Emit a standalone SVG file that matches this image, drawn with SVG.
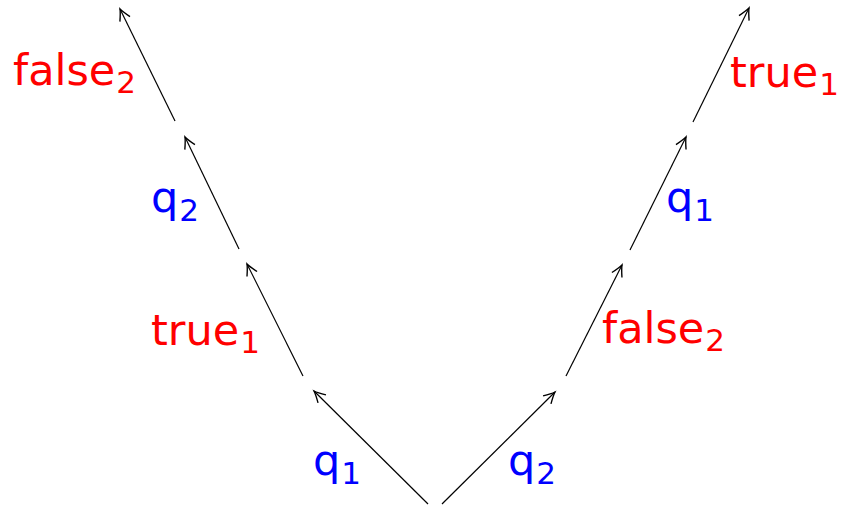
<svg xmlns="http://www.w3.org/2000/svg" width="846" height="506" viewBox="0 0 846 506">
<style>
.e{stroke:#000;stroke-width:1.2;fill:none;marker-end:url(#ah)}
text{font-family:"DejaVu Sans","Liberation Sans",sans-serif;font-size:43px}
.r{fill:#ff0000}
.b{fill:#0000ff}
.s{font-size:31px}
</style>
<defs>
<marker id="ah" markerUnits="userSpaceOnUse" markerWidth="20" markerHeight="20" refX="0" refY="0" viewBox="-12 -8 14 16" orient="auto">
<path d="M-9,-4.5 Q-3,-1 0,0 Q-3,1 -9,4.5" stroke="#000" stroke-width="1.1" fill="none"/>
</marker>
</defs>
<g id="connectors">
<line class="e" x1="428" y1="504" x2="314" y2="391"/>
<line class="e" x1="303" y1="376" x2="247" y2="264"/>
<line class="e" x1="239" y1="249" x2="185" y2="137"/>
<line class="e" x1="175" y1="121" x2="120" y2="9"/>
<line class="e" x1="442" y1="504" x2="555" y2="392"/>
<line class="e" x1="566" y1="376" x2="622" y2="265"/>
<line class="e" x1="630" y1="250" x2="686" y2="137"/>
<line class="e" x1="693" y1="122" x2="749" y2="8"/>
</g>
<g id="l-q1"><text class="b" x="313" y="475">q<tspan class="s" dx="1" dy="9">1</tspan></text></g>
<g id="l-true1"><text class="r" x="151" y="345">true<tspan class="s" dx="1" dy="8">1</tspan></text></g>
<g id="l-q2"><text class="b" x="151" y="212">q<tspan class="s" dx="1" dy="9">2</tspan></text></g>
<g id="l-false2"><text class="r" x="13" y="85">false<tspan class="s" dx="1" dy="8">2</tspan></text></g>
<g id="r-q2"><text class="b" x="508" y="475">q<tspan class="s" dx="1" dy="9">2</tspan></text></g>
<g id="r-false2"><text class="r" x="602" y="343">false<tspan class="s" dx="1" dy="8">2</tspan></text></g>
<g id="r-q1"><text class="b" x="666" y="212">q<tspan class="s" dx="1" dy="9">1</tspan></text></g>
<g id="r-true1"><text class="r" x="730" y="87">true<tspan class="s" dx="1" dy="8">1</tspan></text></g>
</svg>
